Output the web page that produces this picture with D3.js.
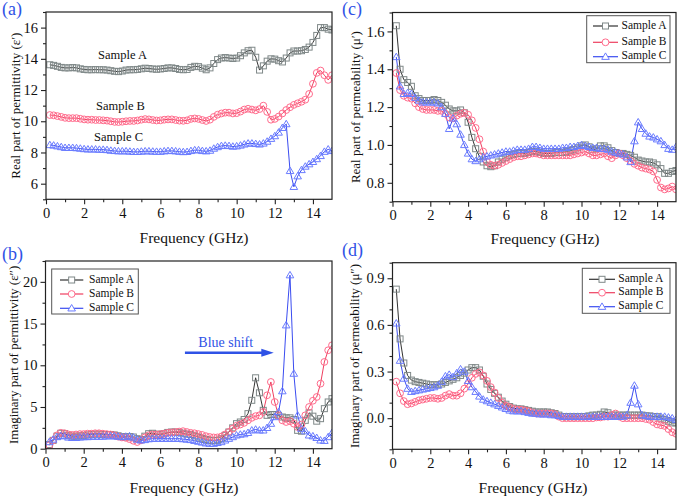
<!DOCTYPE html>
<html><head><meta charset="utf-8">
<script src="https://cdn.jsdelivr.net/npm/d3@7"></script>
<style>body{margin:0;background:#fff}svg{display:block}text{font-family:"Liberation Serif","Times New Roman",serif}</style>
</head><body>
<svg id="c" width="679" height="497"></svg>
<script>
const freq = [0.2,0.4,0.6,0.8,1.0,1.2,1.4,1.6,1.8,2.0,2.2,2.4,2.6,2.8,3.0,3.2,3.4,3.6,3.8,4.0,4.2,4.4,4.6,4.8,5.0,5.2,5.4,5.6,5.8,6.0,6.2,6.4,6.6,6.8,7.0,7.2,7.4,7.6,7.8,8.0,8.2,8.4,8.6,8.8,9.0,9.2,9.4,9.6,9.8,10.0,10.2,10.4,10.6,10.8,11.0,11.2,11.4,11.6,11.8,12.0,12.2,12.4,12.6,12.8,13.0,13.2,13.4,13.6,13.8,14.0,14.2,14.4,14.6,14.8,15.0];
const sampleNames = ["Sample A","Sample B","Sample C"];

const epsRealA = [13.62,13.58,13.52,13.45,13.42,13.42,13.44,13.42,13.36,13.32,13.30,13.30,13.31,13.30,13.30,13.28,13.24,13.20,13.18,13.22,13.28,13.30,13.30,13.32,13.36,13.40,13.38,13.35,13.33,13.35,13.38,13.42,13.42,13.38,13.32,13.30,13.32,13.45,13.52,13.50,13.40,13.30,13.42,13.70,13.95,14.05,14.08,14.05,14.02,14.05,14.20,14.38,14.52,14.55,14.10,13.28,13.55,13.85,14.00,13.98,13.88,13.80,14.05,14.38,14.50,14.50,14.52,14.60,14.75,15.05,15.50,16.00,16.00,15.90,15.85];
const epsRealB = [10.40,10.38,10.33,10.28,10.22,10.20,10.20,10.20,10.16,10.12,10.10,10.10,10.08,10.08,10.06,10.04,10.00,9.96,9.95,9.97,10.00,10.02,10.02,10.05,10.10,10.14,10.12,10.08,10.05,10.06,10.10,10.12,10.12,10.08,10.04,10.03,10.06,10.15,10.18,10.15,10.08,10.02,10.10,10.28,10.42,10.50,10.55,10.55,10.50,10.52,10.62,10.75,10.80,10.75,10.70,10.78,11.00,10.60,10.10,10.15,10.30,10.50,10.72,10.90,11.05,11.15,11.25,11.38,11.75,12.40,13.10,13.25,12.95,12.65,12.95];
const epsRealC = [8.48,8.45,8.40,8.35,8.30,8.30,8.30,8.28,8.25,8.22,8.20,8.20,8.20,8.18,8.18,8.16,8.12,8.10,8.08,8.08,8.08,8.06,8.04,8.04,8.06,8.08,8.08,8.06,8.05,8.05,8.08,8.10,8.10,8.08,8.05,8.03,8.04,8.10,8.15,8.15,8.10,8.08,8.12,8.25,8.35,8.42,8.44,8.42,8.38,8.40,8.45,8.52,8.58,8.58,8.55,8.52,8.58,8.70,8.88,9.05,9.28,9.58,9.82,6.82,5.80,6.48,6.88,7.10,7.25,7.40,7.58,7.78,8.05,8.20,8.10];

const epsImagA = [0.5,1.0,1.5,1.85,1.8,1.6,1.5,1.5,1.55,1.6,1.65,1.7,1.75,1.75,1.7,1.7,1.7,1.65,1.55,1.45,1.4,1.45,1.4,1.2,1.1,1.5,1.8,1.85,1.75,1.7,1.8,1.95,2.0,2.0,1.95,1.85,1.75,1.7,1.55,1.4,1.25,1.1,1.0,0.95,1.0,1.2,1.6,2.0,2.5,3.0,3.2,3.5,4.2,5.8,8.5,6.7,4.6,4.0,4.1,4.1,4.0,3.8,3.7,3.7,3.5,2.2,2.1,3.4,4.3,3.9,3.3,3.6,4.8,5.6,6.0];
const epsImagB = [0.4,1.0,1.6,1.9,1.85,1.7,1.65,1.7,1.75,1.75,1.8,1.8,1.85,1.85,1.8,1.75,1.7,1.6,1.45,1.35,1.3,1.15,0.95,0.8,1.0,1.35,1.6,1.7,1.7,1.75,1.8,1.9,1.95,2.0,2.05,2.1,2.0,1.9,1.85,1.75,1.65,1.5,1.4,1.35,1.35,1.45,1.7,2.0,2.4,2.75,2.9,3.1,3.4,3.7,3.9,4.0,4.4,6.4,8.0,5.6,4.0,3.4,3.2,3.3,3.0,2.6,2.9,4.0,5.0,5.75,6.2,7.8,10.4,11.8,12.4];
const epsImagC = [0.8,1.1,1.4,1.55,1.5,1.35,1.3,1.3,1.35,1.4,1.4,1.45,1.45,1.45,1.45,1.5,1.5,1.5,1.45,1.4,1.45,1.5,1.35,1.1,1.0,1.05,1.15,1.2,1.2,1.2,1.2,1.2,1.2,1.2,1.2,1.15,1.1,1.05,0.95,0.85,0.75,0.65,0.6,0.6,0.7,0.8,1.0,1.2,1.4,1.6,1.7,1.75,1.9,2.2,2.3,2.2,2.2,2.5,3.0,3.8,4.4,6.9,14.8,20.8,9.0,4.0,2.4,2.1,1.6,1.5,1.3,1.0,0.95,1.4,1.9];

const muRealA = [1.63,1.40,1.345,1.33,1.31,1.26,1.245,1.235,1.235,1.235,1.24,1.235,1.225,1.21,1.19,1.18,1.18,1.185,1.17,1.12,1.04,0.98,0.94,0.91,0.89,0.885,0.89,0.91,0.925,0.935,0.945,0.95,0.955,0.955,0.955,0.96,0.965,0.965,0.96,0.955,0.955,0.955,0.96,0.96,0.96,0.965,0.97,0.975,0.985,0.995,1.0,0.99,0.975,0.98,0.995,0.995,0.985,0.97,0.96,0.955,0.955,0.95,0.945,0.935,0.92,0.915,0.91,0.91,0.905,0.895,0.875,0.85,0.85,0.86,0.865];
const muRealB = [1.38,1.29,1.26,1.25,1.245,1.22,1.20,1.19,1.185,1.185,1.185,1.18,1.18,1.165,1.145,1.14,1.155,1.165,1.17,1.16,1.13,1.09,1.03,0.965,0.91,0.895,0.89,0.895,0.905,0.915,0.925,0.935,0.94,0.94,0.945,0.95,0.955,0.955,0.95,0.945,0.945,0.945,0.945,0.945,0.945,0.945,0.945,0.95,0.955,0.96,0.965,0.955,0.945,0.945,0.95,0.955,0.94,0.93,0.945,0.955,0.945,0.93,0.915,0.9,0.89,0.88,0.875,0.87,0.86,0.815,0.775,0.765,0.77,0.78,0.765];
const muRealC = [1.465,1.31,1.27,1.275,1.27,1.25,1.235,1.225,1.225,1.225,1.225,1.22,1.20,1.165,1.085,1.14,1.11,1.055,1.0,0.955,0.925,0.915,0.925,0.935,0.94,0.945,0.95,0.955,0.96,0.965,0.965,0.97,0.975,0.975,0.975,0.98,0.99,0.99,0.985,0.98,0.98,0.98,0.98,0.98,0.985,0.985,0.99,0.99,0.995,1.0,0.995,0.99,0.985,0.985,0.98,0.98,0.975,0.965,0.96,0.955,0.95,0.935,0.91,1.02,1.12,1.085,1.06,1.045,1.04,1.03,1.02,1.0,0.98,0.975,0.99];

const muImagA = [0.83,0.51,0.355,0.275,0.245,0.235,0.23,0.225,0.22,0.215,0.215,0.215,0.22,0.23,0.24,0.25,0.26,0.275,0.29,0.31,0.325,0.325,0.31,0.27,0.22,0.185,0.16,0.135,0.11,0.09,0.075,0.065,0.06,0.06,0.055,0.05,0.045,0.04,0.04,0.04,0.04,0.035,0.03,0.02,0.01,0.01,0.01,0.01,0.01,0.01,0.01,0.015,0.02,0.02,0.025,0.04,0.035,0.02,0.02,0.02,0.02,0.02,0.02,0.02,0.02,0.02,0.015,0.015,0.01,0.01,0.0,-0.01,-0.02,-0.03,-0.03];
const muImagB = [0.235,0.16,0.11,0.09,0.095,0.105,0.115,0.12,0.125,0.13,0.13,0.125,0.13,0.145,0.155,0.145,0.145,0.16,0.19,0.22,0.26,0.285,0.295,0.275,0.24,0.2,0.165,0.13,0.1,0.08,0.07,0.06,0.055,0.055,0.05,0.045,0.035,0.03,0.03,0.03,0.03,0.03,0.025,0.01,0.0,0.0,0.0,0.0,0.0,0.0,0.0,0.0,0.0,0.005,0.005,0.01,0.01,0.02,0.03,0.01,0.0,0.0,0.0,0.0,0.0,0.0,-0.005,-0.01,-0.025,-0.04,-0.045,-0.05,-0.07,-0.09,-0.10];
const muImagC = [0.61,0.37,0.255,0.19,0.17,0.175,0.18,0.185,0.19,0.195,0.2,0.21,0.235,0.27,0.28,0.265,0.29,0.315,0.30,0.24,0.2,0.17,0.14,0.12,0.11,0.1,0.09,0.08,0.07,0.06,0.05,0.045,0.045,0.045,0.04,0.035,0.03,0.03,0.025,0.025,0.025,0.02,0.02,0.015,0.01,0.01,0.01,0.01,0.01,0.01,0.01,0.01,0.01,0.01,0.01,0.01,0.01,0.01,0.01,0.01,0.01,0.02,0.1,0.21,0.09,0.02,0.015,0.01,0.01,0.01,0.01,0.01,0.005,0.0,-0.01];

const xTicks = [0,2,4,6,8,10,12,14];
const yTicksA = [6,8,10,12,14,16];
const yTicksB = [0,5,10,15,20];
const yTicksC = [0.8,1.0,1.2,1.4,1.6];
const yTicksD = [0.0,0.3,0.6,0.9];

const styles = [
  {line:"#333333", mark:"#7f8888", shape:"square"},
  {line:"#ee3f5f", mark:"#ff6b8c", shape:"circle"},
  {line:"#3a4cf0", mark:"#6a7cff", shape:"triangle"}
];
const blue = "#2f52e6";
const SERIF = '"Liberation Serif","Times New Roman",serif';

const panels = [
  {label:"(a)", lx:2, ly:15, L:46, R:332, T:12, B:199.3, y:[5,17], yt:yTicksA, ym:1, fmt:d3.format("d"),
   ytitle:"Real part of permittivity (\u03b5\u2032)", ytx:17, xtx:194, xty:243,
   series:[epsRealA,epsRealB,epsRealC], legend:null},
  {label:"(b)", lx:2, ly:260, L:45.5, R:332, T:261, B:448.7, y:[0,22.5], yt:yTicksB, ym:2.5, fmt:d3.format("d"),
   ytitle:"Imaginary part of permittivity (\u03b5\u2033)", ytx:15, xtx:184, xty:493,
   series:[epsImagA,epsImagB,epsImagC], legend:{x0:51.7,y0:269,w:86.6,h:45,rows:[280,294,308.3],lx0:60,lx1:83.3,tx:89}},
  {label:"(c)", lx:342, ly:15, L:392.5, R:676, T:12.5, B:201.7, y:[0.7,1.7], yt:yTicksC, ym:0.1, fmt:d3.format(".1f"),
   ytitle:"Real part of permeability (\u03bc\u2032)", ytx:357, xtx:545, xty:244,
   series:[muRealA,muRealB,muRealC], legend:{x0:586.7,y0:15.7,w:83.3,h:47,rows:[26,42.3,56.7],lx0:593,lx1:618,tx:621.5}},
  {label:"(d)", lx:342, ly:256, L:392.5, R:676, T:262.7, B:449.3, y:[-0.2,1.0], yt:yTicksD, ym:0.15, fmt:d3.format(".1f"),
   ytitle:"Imaginary part of permeability (\u03bc\u2033)", ytx:356, xtx:533, xty:493,
   series:[muImagA,muImagB,muImagC], legend:{x0:582.3,y0:268.3,w:87.7,h:45,rows:[279.3,292.7,306.7],lx0:589,lx1:615,tx:618.3}}
];

const svg = d3.select("#c");

function marker(g, shape, cx, cy, color, fill){
  if(shape==="square"){
    g.append("rect").attr("x",cx-3).attr("y",cy-3).attr("width",6).attr("height",6)
      .attr("fill",fill).attr("stroke",color).attr("stroke-width",1);
  } else if(shape==="circle"){
    g.append("circle").attr("cx",cx).attr("cy",cy).attr("r",3.4)
      .attr("fill",fill).attr("stroke",color).attr("stroke-width",1);
  } else {
    const s=3.8;
    g.append("path").attr("d",`M${cx},${cy-s}L${cx+s},${cy+s*0.7}L${cx-s},${cy+s*0.7}Z`)
      .attr("fill",fill).attr("stroke",color).attr("stroke-width",1);
  }
}

panels.forEach(p=>{
  const x = d3.scaleLinear().domain([0,15]).range([p.L,p.R]);
  const y = d3.scaleLinear().domain(p.y).range([p.B,p.T]);
  const g = svg.append("g");

  const cid = "clip"+p.label.replace(/\W/g,"");
  svg.append("clipPath").attr("id",cid).append("rect")
    .attr("x",p.L).attr("y",p.T).attr("width",p.R-p.L).attr("height",p.B-p.T);

  const data = g.append("g").attr("clip-path",`url(#${cid})`);
  p.series.forEach((vals,si)=>{
    const st = styles[si];
    const pts = freq.map((f,i)=>[f,vals[i]]);
    data.append("path").datum(pts)
      .attr("d", d3.line().x(d=>x(d[0])).y(d=>y(d[1])))
      .attr("fill","none").attr("stroke",st.line).attr("stroke-width",1);
  });
  p.series.forEach((vals,si)=>{
    const st = styles[si];
    const mg = data.append("g");
    freq.forEach((f,i)=> marker(mg, st.shape, x(f), y(vals[i]), st.mark, "none"));
  });

  const xAxis = d3.axisBottom(x).tickValues(xTicks).tickSize(5).tickPadding(3).tickFormat(d3.format("d"));
  const xMinor = d3.axisBottom(x).tickValues(d3.range(1,15,2)).tickSize(3).tickFormat("");
  g.append("g").attr("transform",`translate(0,${p.B})`).call(xAxis);
  g.append("g").attr("transform",`translate(0,${p.B})`).call(xMinor);
  const minorY = d3.range(p.y[0], p.y[1]+1e-9, p.ym).filter(v=>!p.yt.some(t=>Math.abs(t-v)<1e-6));
  const yAxis = d3.axisLeft(y).tickValues(p.yt).tickSize(5).tickPadding(3).tickFormat(p.fmt);
  g.append("g").attr("transform",`translate(${p.L},0)`).call(yAxis);
  g.append("g").attr("transform",`translate(${p.L},0)`).call(d3.axisLeft(y).tickValues(minorY).tickSize(3).tickFormat(""));
  g.selectAll(".domain").remove();
  g.selectAll(".tick line").attr("stroke","#222").attr("stroke-width",1.1);
  g.selectAll(".tick text").attr("font-size",14.5).attr("fill","#111");
  g.append("rect").attr("x",p.L).attr("y",p.T).attr("width",p.R-p.L).attr("height",p.B-p.T)
    .attr("fill","none").attr("stroke","#222").attr("stroke-width",1.2);

  g.append("text").attr("x",p.xtx).attr("y",p.xty).attr("text-anchor","middle")
    .attr("font-size",15.5).attr("fill","#111").text("Frequency (GHz)");
  g.append("text").attr("transform",`translate(${p.ytx},${(p.T+p.B)/2}) rotate(-90)`)
    .attr("text-anchor","middle").attr("dominant-baseline","middle")
    .attr("font-size",13).attr("fill","#111").text(p.ytitle);
  g.append("text").attr("x",p.lx).attr("y",p.ly).attr("font-size",18).attr("fill",blue).text(p.label);

  if(p.legend){
    const L = p.legend;
    g.append("rect").attr("x",L.x0).attr("y",L.y0).attr("width",L.w).attr("height",L.h)
      .attr("fill","#fff").attr("stroke","#555").attr("stroke-width",1);
    sampleNames.forEach((n,i)=>{
      const st = styles[i];
      g.append("line").attr("x1",L.lx0).attr("x2",L.lx1).attr("y1",L.rows[i]).attr("y2",L.rows[i])
        .attr("stroke",st.line).attr("stroke-width",1.2);
      marker(g, st.shape, (L.lx0+L.lx1)/2, L.rows[i], st.mark, "#fff");
      g.append("text").attr("x",L.tx).attr("y",L.rows[i]).attr("dominant-baseline","middle")
        .attr("font-size",11.5).attr("fill","#111").text(n);
    });
  }
});

// sample labels in panel (a)
const pa = panels[0];
const xa = d3.scaleLinear().domain([0,15]).range([pa.L,pa.R]);
const ya = d3.scaleLinear().domain(pa.y).range([pa.B,pa.T]);
const labA = [{t:"Sample A",f:2.73,v:14.0},{t:"Sample B",f:2.62,v:10.72},{t:"Sample C",f:2.52,v:8.74}];
labA.forEach(d=>{
  svg.append("text").attr("x",xa(d.f)).attr("y",ya(d.v)).attr("font-size",12.5).attr("fill","#111").text(d.t);
});

// blue shift annotation panel (b)
const pb = panels[1];
const xb = d3.scaleLinear().domain([0,15]).range([pb.L,pb.R]);
const yb = d3.scaleLinear().domain(pb.y).range([pb.B,pb.T]);
svg.append("text").attr("x",xb(8.0)).attr("y",yb(12.2)).attr("font-size",14).attr("fill",blue).text("Blue shift");
svg.append("line").attr("x1",xb(7.3)).attr("x2",xb(11.4)).attr("y1",yb(11.5)).attr("y2",yb(11.5))
  .attr("stroke",blue).attr("stroke-width",2.4);
svg.append("path").attr("d",`M${xb(11.95)},${yb(11.5)}L${xb(11.3)},${yb(11.5)-4}L${xb(11.3)},${yb(11.5)+4}Z`).attr("fill",blue);

svg.selectAll("text").style("font-family", SERIF);
</script>
</body></html>
